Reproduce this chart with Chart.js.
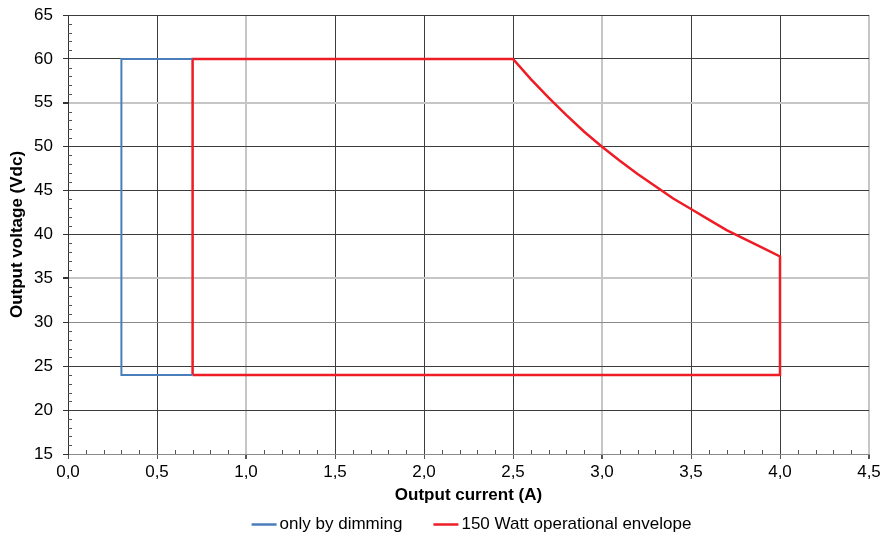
<!DOCTYPE html>
<html>
<head>
<meta charset="utf-8">
<script src="https://cdn.jsdelivr.net/npm/chart.js@4/dist/chart.umd.min.js"></script>
<style>
html,body{margin:0;padding:0;background:#fff;}
#wrap{width:884px;height:535px;position:relative;}
</style>
</head>
<body>
<div id="wrap"><canvas id="c" width="884" height="535"></canvas></div>
<script>
// Data
const dimmingCurrent = [0.7, 0.3, 0.3, 0.7];
const dimmingVoltage = [60, 60, 24, 24];

const envelopeCurrent = [0.7, 0.7, 2.5, 2.6, 2.7, 2.8, 2.9, 3.0, 3.1, 3.2, 3.3, 3.4, 3.5, 3.6, 3.7, 3.8, 3.9, 4.0, 4.0, 0.7];
const envelopeVoltage = [24, 60, 60, 57.7, 55.6, 53.6, 51.7, 50.0, 48.4, 46.9, 45.5, 44.1, 42.9, 41.7, 40.5, 39.5, 38.5, 37.5, 24, 24];

const seriesNames = ['only by dimming', '150 Watt operational envelope'];
const xTitle = 'Output current (A)';
const yTitle = 'Output voltage (Vdc)';

const FONT = "'Liberation Sans', Arial, sans-serif";
const FS = 17;

function pts(xs, ys){ return xs.map((x,i)=>({x:x, y:ys[i]})); }

const lightX = [1.0, 3.0, 4.5];
const lightY = [55, 35];
const midY = [30];

const minorTicks = {
  id:'minorTicks',
  afterDraw(chart){
    const ctx = chart.ctx;
    const xs = chart.scales.x, ys = chart.scales.y;
    const ca = chart.chartArea;
    ctx.save();
    ctx.strokeStyle = '#555';
    ctx.lineWidth = 1;
    ctx.beginPath();
    for(let i=1;i<45;i++){
      if(i%5===0) continue;
      const px = Math.round(xs.getPixelForValue(i/10))+0.5;
      ctx.moveTo(px, ca.bottom);
      ctx.lineTo(px, ca.bottom-4);
    }
    for(let v=16; v<65; v++){
      if(v%5===0) continue;
      const py = Math.round(ys.getPixelForValue(v))+0.5;
      ctx.moveTo(ca.left, py);
      ctx.lineTo(ca.left+4, py);
    }
    ctx.stroke();
    ctx.restore();
  }
};

const bottomLegend = {
  id:'bottomLegend',
  afterDraw(chart){
    const ctx = chart.ctx;
    const ds = chart.data.datasets;
    const lineLen = 25, lineGap = 3, itemGap = 31;
    ctx.save();
    ctx.font = FS + 'px ' + FONT;
    ctx.textBaseline = 'middle';
    ctx.textAlign = 'left';
    const widths = ds.map(d => lineLen + lineGap + ctx.measureText(d.label).width);
    const total = widths.reduce((a,b)=>a+b,0) + itemGap*(ds.length-1);
    const ca = chart.chartArea;
    let x = (ca.left + ca.right)/2 - total/2 + 3;
    const y = 524;
    ds.forEach((d,i)=>{
      ctx.strokeStyle = d.borderColor;
      ctx.lineWidth = 2.5;
      ctx.beginPath();
      ctx.moveTo(x, y+0.5);
      ctx.lineTo(x+lineLen, y+0.5);
      ctx.stroke();
      ctx.fillStyle = '#000';
      ctx.fillText(d.label, x+lineLen+lineGap, y);
      x += widths[i] + itemGap;
    });
    ctx.restore();
  }
};

new Chart(document.getElementById('c'), {
  type:'scatter',
  data:{
    datasets:[
      {label:seriesNames[0], data:pts(dimmingCurrent, dimmingVoltage), showLine:true, borderColor:'#4a7ebb', backgroundColor:'#4a7ebb', borderWidth:2, pointRadius:0, fill:false, tension:0},
      {label:seriesNames[1], data:pts(envelopeCurrent, envelopeVoltage), showLine:true, borderColor:'#ee1c25', backgroundColor:'#ee1c25', borderWidth:2.5, pointRadius:0, fill:false, tension:0}
    ]
  },
  options:{
    responsive:false,
    animation:false,
    layout:{padding:{left:0,right:15,top:15,bottom:29}},
    plugins:{
      tooltip:{enabled:false},
      legend:{display:false}
    },
    scales:{
      x:{
        type:'linear', min:0, max:4.5,
        afterFit(s){ s.height = 52; s.paddingLeft = 0; s.paddingRight = 0; },
        ticks:{stepSize:0.5, font:{family:FONT,size:FS}, color:'#000', padding:3,
          callback:(v)=>v.toFixed(1).replace('.',',')},
        grid:{
          color:(c)=>{const v=c.tick.value; return lightX.some(l=>Math.abs(l-v)<1e-6)?'#c6c6c6':'#3c3c3c';},
          lineWidth:(c)=>{const v=c.tick.value; return lightX.some(l=>Math.abs(l-v)<1e-6)?2:1;},
          tickLength:5, tickColor:'#555', drawTicks:true
        },
        border:{display:true, color:'#8a8a8a', width:1},
        title:{display:true, text:xTitle, font:{family:FONT,size:FS,weight:'bold'}, color:'#000', padding:{top:2,bottom:0}}
      },
      y:{
        type:'linear', min:15, max:65,
        afterFit(s){ s.width = 68; s.paddingTop = 0; s.paddingBottom = 0; },
        ticks:{stepSize:5, font:{family:FONT,size:FS}, color:'#000', padding:10},
        grid:{
          color:(c)=>{const v=c.tick.value; if(lightY.includes(v)) return '#c6c6c6'; if(midY.includes(v)) return '#8a8a8a'; return '#3c3c3c';},
          lineWidth:(c)=>{const v=c.tick.value; return lightY.includes(v)?2:1;},
          tickLength:5, tickColor:'#333'
        },
        border:{display:true, color:'#333', width:1},
        title:{display:true, text:yTitle, font:{family:FONT,size:FS,weight:'bold'}, color:'#000', padding:{top:7,bottom:0}}
      }
    }
  },
  plugins:[minorTicks, bottomLegend]
});
</script>
</body>
</html>
